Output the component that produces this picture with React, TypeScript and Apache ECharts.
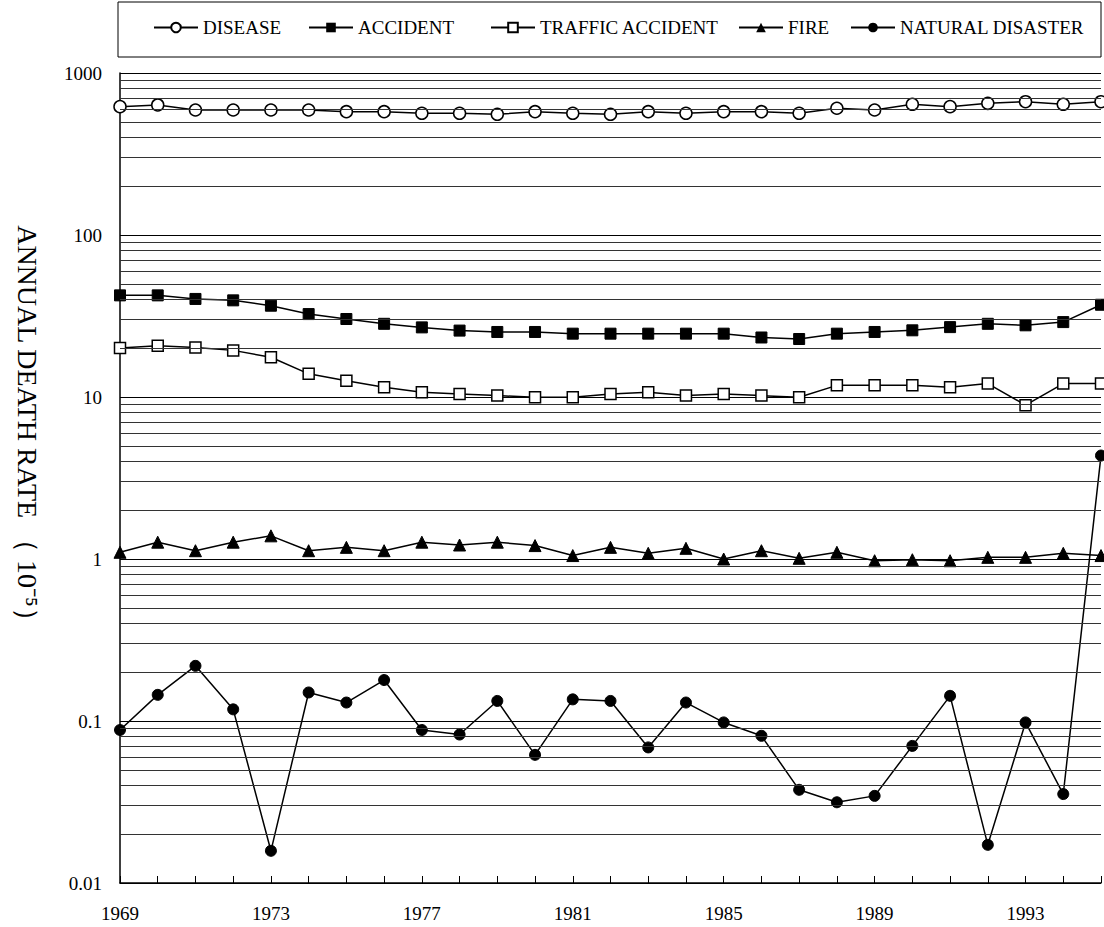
import React, { useEffect, useRef } from "react";
import * as echarts from "echarts";

const years = [
  "1969", "1970", "1971", "1972", "1973", "1974", "1975", "1976", "1977",
  "1978", "1979", "1980", "1981", "1982", "1983", "1984", "1985", "1986",
  "1987", "1988", "1989", "1990", "1991", "1992", "1993", "1994", "1995",
];

const disease = [
  620, 635, 591, 591, 591, 591, 577, 577, 564, 564, 556, 577, 564,
  556, 577, 564, 577, 577, 564, 606, 591, 641, 620, 650, 665, 641, 665,
];
const accident = [
  42.4, 42.4, 40.3, 39.5, 36.6, 32.5, 30.3, 28.3, 26.9, 25.7, 25.2, 25.2, 24.6,
  24.6, 24.6, 24.6, 24.6, 23.3, 22.8, 24.6, 25.2, 25.8, 27.0, 28.3, 27.7, 29.0, 37.1,
];
const traffic = [
  20.1, 20.7, 20.2, 19.4, 17.6, 13.9, 12.6, 11.5, 10.7, 10.45, 10.2, 9.96, 9.96,
  10.45, 10.7, 10.2, 10.45, 10.2, 9.96, 11.8, 11.8, 11.8, 11.5, 12.1, 8.9, 12.1, 12.1,
];
const fire = [
  1.1, 1.27, 1.125, 1.27, 1.39, 1.125, 1.18, 1.125, 1.27, 1.22, 1.27, 1.21, 1.05,
  1.18, 1.084, 1.164, 1.0, 1.125, 1.01, 1.1, 0.976, 0.99, 0.976, 1.024, 1.024, 1.084, 1.05,
];
const natural = [
  0.088, 0.145, 0.219, 0.118, 0.0158, 0.15, 0.13, 0.179, 0.088, 0.0825, 0.133, 0.0618, 0.136,
  0.133, 0.0687, 0.13, 0.098, 0.081, 0.0376, 0.0315, 0.0345, 0.0702, 0.143, 0.0172, 0.098, 0.0354, 4.35,
];

const yTickLabels = ["0.01", "0.1", "1", "10", "100", "1000"];
const seriesNames = ["DISEASE", "ACCIDENT", "TRAFFIC ACCIDENT", "FIRE", "NATURAL DISASTER"];
const yAxisTitle = "ANNUAL DEATH RATE （ 10⁻⁵）";

const FONT = "Liberation Serif";

export default function App() {
  const ref = useRef<HTMLDivElement>(null);
  useEffect(() => {
    document.body.style.margin = "0";
    const chart = echarts.init(ref.current!, undefined, { renderer: "svg" });

    const minorValues: { yAxis: number }[] = [];
    for (let e = -2; e < 3; e++) {
      for (let k = 2; k <= 9; k++) {
        minorValues.push({ yAxis: k * Math.pow(10, e) });
      }
    }

    const legendLefts = [153, 308, 490, 738, 850];
    const legends = seriesNames.map((n, i) => ({
      data: [n],
      left: legendLefts[i],
      top: 18,
      padding: 0,
      itemGap: 0,
      itemWidth: 44,
      itemHeight: 12,
      selectedMode: false,
      textStyle: { fontSize: 19, fontFamily: FONT, color: "#000" },
    }));

    const lineStyle = { color: "#000", width: 1.5 };

    const option: any = {
      animation: false,
      textStyle: { fontFamily: FONT, color: "#000" },
      grid: { left: 120, right: 3, top: 73, bottom: 44, containLabel: false },
      legend: legends,
      xAxis: {
        type: "category",
        data: years,
        boundaryGap: false,
        axisLine: { lineStyle: { color: "#000", width: 1.5 } },
        axisTick: { show: true, inside: true, length: 7, interval: 0, lineStyle: { color: "#000" } },
        axisLabel: { interval: 3, fontSize: 19, color: "#000", margin: 21, fontFamily: FONT },
        splitLine: { show: false },
      },
      yAxis: {
        type: "log",
        logBase: 10,
        min: 0.01,
        max: 1000,
        splitNumber: 5,
        axisLine: { show: true, lineStyle: { color: "#000", width: 1.5 } },
        axisTick: { show: true, inside: true, length: 6, lineStyle: { color: "#000" } },
        axisLabel: {
          fontSize: 19,
          color: "#000",
          margin: 18,
          fontFamily: FONT,
          formatter: (v: number) => {
            const lab = yTickLabels.find(
              (l) => Math.abs(Math.log10(Number(l)) - Math.log10(v)) < 1e-6
            );
            return lab ?? "";
          },
        },
        splitLine: { show: true, lineStyle: { color: "#000", width: 1 } },
      },
      graphic: [
        {
          type: "rect",
          shape: { x: 118, y: 2, width: 983, height: 55 },
          style: { fill: "none", stroke: "#000", lineWidth: 1 },
          silent: true,
        },
        {
          type: "text",
          x: 27,
          y: 430,
          rotation: -Math.PI / 2,
          style: {
            text: yAxisTitle,
            fontSize: 28,
            fontFamily: FONT,
            fill: "#000",
            align: "center",
            verticalAlign: "middle",
          },
        },
      ],
      series: [
        {
          name: seriesNames[0],
          type: "line",
          data: disease,
          symbol: "circle",
          symbolSize: 12,
          lineStyle,
          itemStyle: { color: "#fff", borderColor: "#000", borderWidth: 1.5 },
          z: 3,
          markLine: {
            silent: true,
            symbol: ["none", "none"],
            label: { show: false },
            animation: false,
            lineStyle: { color: "#333", type: "solid", width: 1 },
            emphasis: { disabled: true },
            data: minorValues,
          },
        },
        {
          name: seriesNames[1],
          type: "line",
          data: accident,
          symbol: "rect",
          symbolSize: 11,
          lineStyle,
          itemStyle: { color: "#000", borderColor: "#000" },
          z: 3,
        },
        {
          name: seriesNames[2],
          type: "line",
          data: traffic,
          symbol: "rect",
          symbolSize: 11,
          lineStyle,
          itemStyle: { color: "#fff", borderColor: "#000", borderWidth: 1.5 },
          z: 3,
        },
        {
          name: seriesNames[3],
          type: "line",
          data: fire,
          symbol: "triangle",
          symbolSize: 12,
          lineStyle,
          itemStyle: { color: "#000", borderColor: "#000" },
          z: 3,
        },
        {
          name: seriesNames[4],
          type: "line",
          data: natural,
          symbol: "circle",
          symbolSize: 11,
          lineStyle,
          itemStyle: { color: "#000", borderColor: "#000" },
          z: 3,
        },
      ],
    };
    chart.setOption(option);
    return () => chart.dispose();
  }, []);
  return <div ref={ref} style={{ width: 1104, height: 927 }} />;
}
